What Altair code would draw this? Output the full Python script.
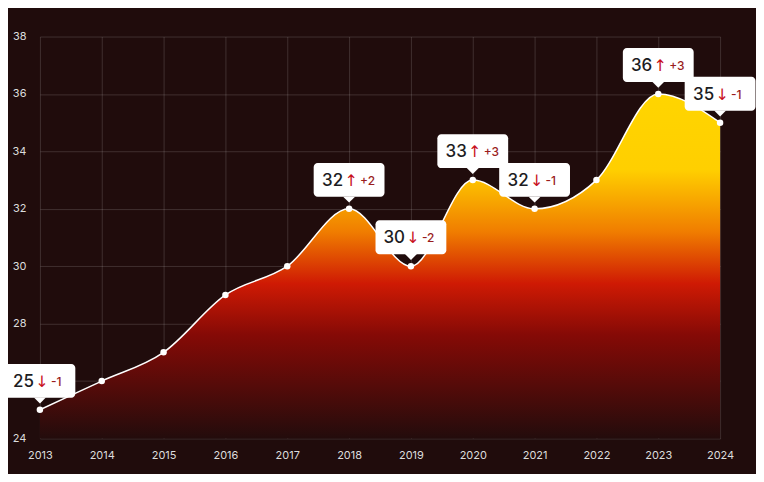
import altair as alt
import pandas as pd

years = [2013, 2014, 2015, 2016, 2017, 2018, 2019, 2020, 2021, 2022, 2023, 2024]
values = [25, 26, 27, 29, 30, 32, 30, 33, 32, 33, 36, 35]

ann_years = [2013, 2018, 2019, 2020, 2021, 2023, 2024]
ann_values = [25, 32, 30, 33, 32, 36, 35]
ann_deltas = [-1, 2, -2, 3, -1, 3, -1]

y_ticks = [24, 26, 28, 30, 32, 34, 36, 38]

df = pd.DataFrame({"year": years, "value": values})
ann = pd.DataFrame({
    "year": ann_years,
    "value": ann_values,
    "num": [str(v) for v in ann_values],
    "arrow": ["↑" if d > 0 else "↓" for d in ann_deltas],
    "delta": [f"+{d}" if d > 0 else f"-{abs(d)}" for d in ann_deltas],
})

FONT = "Inter"

xs = alt.X("year:Q", scale=alt.Scale(domain=[2013, 2024], nice=False, zero=False),
           axis=alt.Axis(values=years, format="d", title=None, ticks=False, domain=False,
                         labelFlush=False, labelOverlap=False,
                         labelColor="#dddddd", labelFontSize=11, labelPadding=11,
                         gridColor="#ffffff", gridOpacity=0.15, labelFont=FONT))
ys = alt.Y("value:Q", scale=alt.Scale(domain=[24, 38], nice=False, zero=False),
           axis=alt.Axis(values=y_ticks, title=None, ticks=False, domain=False,
                         labelFlush=False, labelOverlap=False,
                         labelColor="#dddddd", labelFontSize=11, labelPadding=14,
                         gridColor="#ffffff", gridOpacity=0.15, labelFont=FONT))

grad = alt.Gradient(
    gradient="linear", x1=0, x2=0, y1=0, y2=1,
    stops=[
        alt.GradientStop(color="#ffd500", offset=0),
        alt.GradientStop(color="#ffcf00", offset=0.22),
        alt.GradientStop(color="#f07d00", offset=0.40),
        alt.GradientStop(color="#cf1a04", offset=0.55),
        alt.GradientStop(color="#850a06", offset=0.70),
        alt.GradientStop(color="#230c0c", offset=1),
    ],
)

base = alt.Chart(df)
area = base.mark_area(interpolate="monotone", fill=grad).encode(x=xs, y=ys, y2=alt.datum(24))
line = base.mark_line(interpolate="monotone", color="#ffffff", strokeWidth=1.5).encode(x="year:Q", y="value:Q")
pts = base.mark_point(filled=True, color="#ffffff", size=42, opacity=1).encode(x="year:Q", y="value:Q")

ab = alt.Chart(ann)
box = ab.mark_rect(color="#ffffff", width=71, height=34, cornerRadius=4, yOffset=-29).encode(x="year:Q", y="value:Q")
ptr = ab.mark_point(shape="M-1,-0.2L1,-0.2L0,0.8Z", filled=True, color="#ffffff", size=144,
                    opacity=1, yOffset=-11).encode(x="year:Q", y="value:Q")
t_num = ab.mark_text(align="right", baseline="middle", dx=-6, yOffset=-28, fontSize=17, fontWeight=500,
                     color="#1c1c22", font=FONT).encode(x="year:Q", y="value:Q", text="num:N")
t_arr = ab.mark_text(align="center", baseline="middle", dx=2, yOffset=-28, fontSize=16,
                     color="#c8101c", font="DejaVu Sans").encode(x="year:Q", y="value:Q", text="arrow:N")
t_del = ab.mark_text(align="left", baseline="middle", dx=11, yOffset=-28, fontSize=12, fontWeight=500,
                     color="#9a1d1d", font=FONT).encode(x="year:Q", y="value:Q", text="delta:N")

chart = alt.layer(area, line, pts, box, ptr, t_num, t_arr, t_del).properties(
    width=682, height=403,
    background="#200c0c",
    autosize=alt.AutoSizeParams(type="none"),
    padding={"left": 32, "top": 28, "right": 36, "bottom": 35},
).configure_view(stroke=None)

chart.save("out.html", embed_options={"renderer": "svg", "actions": False})
